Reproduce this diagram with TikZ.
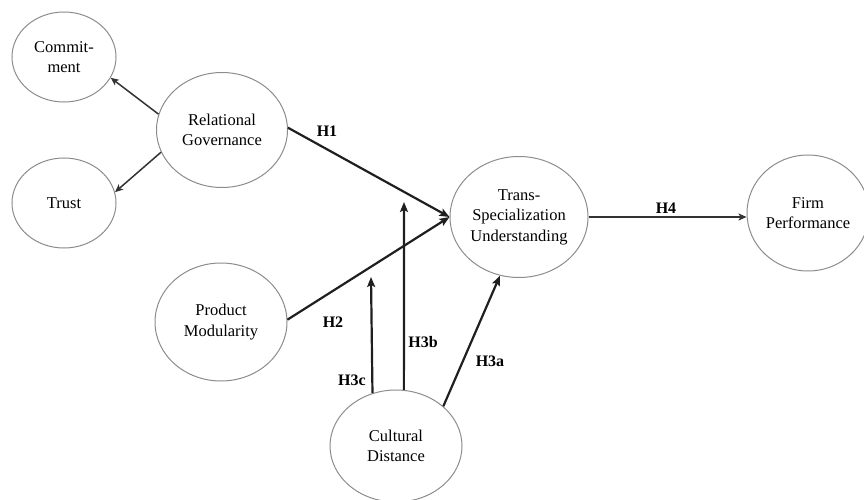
\documentclass[tikz,border=0pt]{standalone}
\usepackage{fontspec}
\setmainfont{Liberation Serif}
\usetikzlibrary{shapes.geometric,arrows.meta}

\begin{document}
\begin{tikzpicture}[x=1pt,y=-1pt,
        construct/.style={ellipse,draw=gray!90,line width=1pt,inner sep=0pt,align=center,
            font=\fontsize{16.5}{20.5}\selectfont},
        hpath/.style={draw=black!88,line width=2.2pt,-{Stealth[length=10pt,width=8pt,inset=2pt]}},
        indicator/.style={draw=black!80,line width=1.5pt,-{Stealth[length=8pt,width=7pt,inset=2pt]}},
        hyp/.style={font=\fontsize{16}{19}\selectfont\bfseries}]
            \useasboundingbox (0,0) rectangle (864,500);

            % constructs
            \node[construct,minimum width=104,minimum height=90] (comm) at (64,57) {Commit-\\ment};
            \node[construct,minimum width=104,minimum height=90] (trust) at (64,203) {Trust};
            \node[construct,minimum width=131,minimum height=115] (relgov) at (222,130) {Relational\\Governance};
            \node[construct,minimum width=132,minimum height=118] (prodmod) at (221,322) {Product\\Modularity};
            \node[construct,minimum width=138,minimum height=121] (tsu) at (519,217) {Trans-\\Specialization\\Understanding};
            \node[construct,minimum width=122,minimum height=116] (firm) at (808,213) {Firm\\Performance};
            \node[construct,minimum width=132,minimum height=112] (cult) at (396,446) {Cultural\\Distance};

            % moderation ends
            \coordinate (h3b) at (404,202);
            \coordinate (h3c) at (371,277);

            \draw[indicator] (relgov.166) -- (comm.-24);
            \draw[indicator] (relgov.200) -- (trust.12);
            \draw[hpath] (relgov.2) -- (tsu.west);
            \draw[hpath] (prodmod.2) -- (tsu.west);
            \draw[hpath] (cult.82) -- (h3b);
            \draw[hpath] (cult.114) -- (h3c);
            \draw[hpath] (cult.40) -- (tsu.252);
            \draw[indicator] (tsu.east) -- (tsu.east -| firm.west);

            % hypothesis labels
            \node[hyp] (lh1) at (327,131) {H1};
            \node[hyp] (lh2) at (333,322) {H2};
            \node[hyp] (lh3a) at (490,361) {H3a};
            \node[hyp] (lh3b) at (423,342) {H3b};
            \node[hyp] (lh3c) at (352,380) {H3c};
            \node[hyp] (lh4) at (666,208) {H4};
        \end{tikzpicture}
\end{document}
